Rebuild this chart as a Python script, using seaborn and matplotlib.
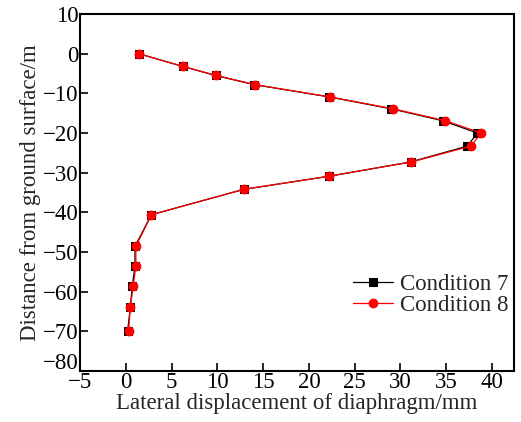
import matplotlib
matplotlib.use("Agg")
import matplotlib.pyplot as plt
import matplotlib.transforms as mtransforms
import seaborn as sns
import pandas as pd

depth = [0, -3.2, -5.5, -7.8, -10.9, -13.9, -16.9, -20.0, -23.3, -27.3,
         -30.9, -34.2, -40.6, -48.6, -53.6, -58.7, -63.8, -69.9]
cond7 = [1.4, 6.2, 9.8, 14.0, 22.2, 29.0, 34.6, 38.4, 37.3, 31.1,
         22.2, 12.9, 2.8, 1.0, 1.0, 0.7, 0.5, 0.2]
cond8 = [1.4, 6.2, 9.9, 14.1, 22.3, 29.2, 34.9, 38.8, 37.7, 31.2,
         22.2, 12.9, 2.8, 1.1, 1.1, 0.8, 0.5, 0.3]
labels = ["Condition 7", "Condition 8"]
xticks = [-5, 0, 5, 10, 15, 20, 25, 30, 35, 40]
yticks = [10, 0, -10, -20, -30, -40, -50, -60, -70, -80]

sns.set_theme(style="white")
plt.rcParams['font.family'] = ['Liberation Serif', 'DejaVu Serif']

fig = plt.figure(figsize=(5.21, 4.22), dpi=100)
ax = fig.add_axes([0.1536, 0.1209, 0.8330, 0.8459])

df7 = pd.DataFrame({"x": cond7, "y": depth})
df8 = pd.DataFrame({"x": cond8, "y": depth})
sns.lineplot(data=df7, x="x", y="y", sort=False, estimator=None, ax=ax,
             color="black", marker="s", markersize=5.5, markeredgecolor="black",
             linewidth=0.9, label=labels[0])
sns.lineplot(data=df8, x="x", y="y", sort=False, estimator=None, ax=ax,
             color="red", marker="o", markersize=6.3, markeredgecolor="red",
             linewidth=0.9, label=labels[1])

ax.set_xlim(-5, 42.4)
ax.set_ylim(-80, 10)
ax.set_xticks(xticks)
ax.set_yticks(yticks)
ax.set_xticklabels([str(t).replace('-', '\u2212') for t in xticks])
ax.set_yticklabels([str(t).replace('-', '\u2212') for t in yticks])
ax.tick_params(direction='in', length=6, width=1.2, labelsize=16.5, pad=1,
               bottom=True, left=True, top=False, right=False, colors='black')
# nudge the bottom y label up slightly (as in the reference) so it clears the x labels
for lab in ax.get_yticklabels():
    if lab.get_text() == '\u221280':
        lab.set_transform(lab.get_transform() +
                          mtransforms.ScaledTranslation(0, 10 / 100, fig.dpi_scale_trans))
for s in ax.spines.values():
    s.set_linewidth(1.5)
    s.set_color('black')
ax.set_xlabel("Lateral displacement of diaphragm/mm", fontsize=16.5, labelpad=0)
ax.set_ylabel("Distance from ground surface/m", fontsize=16.5, labelpad=1)
leg = ax.legend(loc='lower right', bbox_to_anchor=(1.035, 0.095), frameon=False,
                fontsize=16.5, handlelength=1.75, handletextpad=0.3, labelspacing=0.0)
fig.savefig("out.png", dpi=100)
